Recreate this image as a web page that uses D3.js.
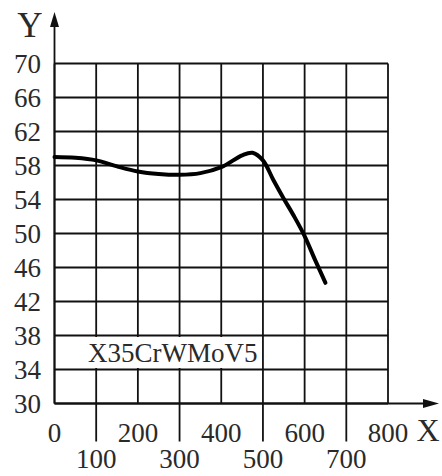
<!DOCTYPE html>
<html>
<head>
<meta charset="utf-8">
<script src="https://cdn.jsdelivr.net/npm/d3@7"></script>
<style>
body { margin: 0; background: #fff; }
svg { display: block; }
text { font-family: "Liberation Serif", "DejaVu Serif", serif; fill: #2a2a2a; }
</style>
</head>
<body>
<svg></svg>
<script>
var WIDTH = 442;
var HEIGHT = 476;

// curve
var xValues = [0, 50, 100, 150, 200, 250, 300, 350, 400, 450, 475, 500, 525, 550, 575, 600, 625, 650];
var yValues = [59.0, 58.9, 58.6, 57.9, 57.3, 57.0, 56.9, 57.1, 57.8, 59.2, 59.5, 58.6, 56.3, 54.1, 52.0, 49.7, 46.9, 44.2];
var xTicks = [0, 100, 200, 300, 400, 500, 600, 700, 800];
var yTicks = [30, 34, 38, 42, 46, 50, 54, 58, 62, 66, 70];
var steelName = 'X35CrWMoV5';

var svg = d3.select('svg')
    .attr('width', WIDTH)
    .attr('height', HEIGHT);

var xScale = d3.scaleLinear().domain([0, 800]).range([54.5, 388]);
var yScale = d3.scaleLinear().domain([30, 70]).range([403.5, 63.5]);

var grid = svg.append('g').attr('stroke', '#111').attr('stroke-width', 1.8);

grid.selectAll('line.v')
    .data(xTicks)
    .enter()
    .append('line')
    .attr('class', 'v')
    .attr('x1', function(d){ return xScale(d); })
    .attr('x2', function(d){ return xScale(d); })
    .attr('y1', yScale(70))
    .attr('y2', function(d, i){ return i % 2 == 1 ? yScale(30) + 38 : yScale(30); });

grid.selectAll('line.h')
    .data(yTicks)
    .enter()
    .append('line')
    .attr('class', 'h')
    .attr('x1', xScale(0))
    .attr('x2', xScale(800))
    .attr('y1', function(d){ return yScale(d); })
    .attr('y2', function(d){ return yScale(d); });

// white band behind the steel name
svg.append('rect')
    .attr('x', xScale(0) + 1.5)
    .attr('y', yScale(38) + 1.5)
    .attr('width', xScale(500) - xScale(0) - 4)
    .attr('height', yScale(34) - yScale(38) - 3)
    .attr('fill', '#fff');

svg.append('text')
    .attr('x', 88)
    .attr('y', 362)
    .attr('font-size', 27)
    .text(steelName);

// axes with arrows
svg.append('line')
    .attr('x1', xScale(0)).attr('x2', xScale(0))
    .attr('y1', yScale(30)).attr('y2', 20)
    .attr('stroke', '#111').attr('stroke-width', 1.8);
svg.append('path')
    .attr('d', 'M' + xScale(0) + ',12 l-4.5,15 l9,0 z')
    .attr('fill', '#111');

svg.append('line')
    .attr('x1', xScale(0)).attr('x2', 430)
    .attr('y1', yScale(30)).attr('y2', yScale(30))
    .attr('stroke', '#111').attr('stroke-width', 1.8);
svg.append('path')
    .attr('d', 'M439,' + yScale(30) + ' l-16,-4.5 l0,9 z')
    .attr('fill', '#111');

svg.append('text')
    .attr('x', 30)
    .attr('y', 37)
    .attr('font-size', 35)
    .attr('text-anchor', 'middle')
    .text('Y');

svg.append('text')
    .attr('x', 428)
    .attr('y', 441)
    .attr('font-size', 32)
    .attr('text-anchor', 'middle')
    .text('X');

svg.selectAll('text.ylab')
    .data(yTicks)
    .enter()
    .append('text')
    .attr('class', 'ylab')
    .attr('x', 41)
    .attr('y', function(d){ return yScale(d) + 9; })
    .attr('font-size', 27)
    .attr('text-anchor', 'end')
    .text(function(d){ return d; });

svg.selectAll('text.xlab')
    .data(xTicks)
    .enter()
    .append('text')
    .attr('class', 'xlab')
    .attr('x', function(d){ return xScale(d); })
    .attr('y', function(d, i){ return i % 2 == 1 ? 468 : 442; })
    .attr('font-size', 27)
    .attr('text-anchor', 'middle')
    .text(function(d){ return d; });

var line = d3.line()
    .x(function(d){ return xScale(d[0]); })
    .y(function(d){ return yScale(d[1]); })
    .curve(d3.curveCatmullRom.alpha(0.5));

svg.append('path')
    .datum(d3.zip(xValues, yValues))
    .attr('d', line)
    .attr('fill', 'none')
    .attr('stroke', '#000')
    .attr('stroke-width', 4)
    .attr('stroke-linecap', 'round');
</script>
</body>
</html>
